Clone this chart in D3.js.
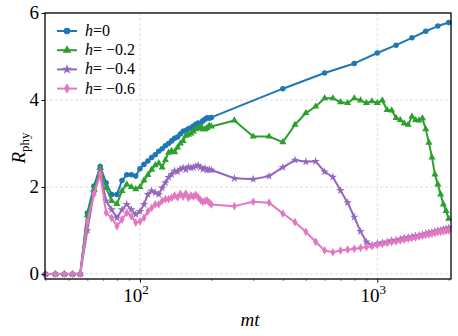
<!DOCTYPE html>
<html><head><meta charset="utf-8">
<script src="https://cdn.jsdelivr.net/npm/d3@7"></script>
<style>body{margin:0;background:#fff;}</style>
</head><body><svg id="c" width="458" height="336"></svg>
<script>
const xDense = [40,44,48,52,56,60,64,68,72,76,80,84,88,92,96,100,104,108,112,116,120,124,128,132,136,140,144,148,152,156,160,164,168,172,176,180,184,188,192,196,200];
const xBlueTail = [400,600,800,1000,1200,1400,1600,1800,2000];
const xTail = [250,300,350,400,450,500,550,600,650,700,750,800,850,900,950,1000,1050,1100,1150,1200,1250,1300,1350,1400,1450,1500,1550,1600,1650,1700,1750,1800,1850,1900,1950,2000];

const blueDense = [0,0,0,0,0,1.40,2.02,2.47,2.10,1.83,1.83,2.15,2.28,2.28,2.25,2.42,2.52,2.60,2.68,2.74,2.82,2.88,2.95,3.00,3.06,3.12,3.15,3.22,3.28,3.30,3.34,3.36,3.40,3.44,3.47,3.46,3.52,3.56,3.59,3.58,3.60];
const blueTail = [4.26,4.62,4.84,5.08,5.26,5.43,5.58,5.70,5.78];

const greenDense = [0,0,0,0,0,1.35,1.95,2.45,1.98,1.68,1.61,1.91,2.06,2.00,1.95,2.00,2.15,2.28,2.40,2.50,2.55,2.45,2.62,2.79,2.83,2.80,2.91,3.00,3.06,3.18,3.20,3.23,3.28,3.33,3.36,3.39,3.33,3.33,3.36,3.41,3.39];
const greenTail = [3.53,3.16,3.16,3.03,3.43,3.70,3.85,4.04,4.04,3.95,3.93,4.04,3.99,3.93,3.97,3.93,3.99,3.77,3.76,3.59,3.54,3.46,3.43,3.62,3.54,3.53,3.58,3.33,3.02,2.68,2.29,2.06,1.83,1.60,1.45,1.27];

const purpleDense = [0,0,0,0,0,1.00,1.87,2.38,1.68,1.48,1.29,1.48,1.60,1.48,1.37,1.44,1.60,1.83,1.91,1.87,1.83,1.98,2.10,2.22,2.29,2.37,2.35,2.41,2.44,2.40,2.46,2.44,2.45,2.48,2.50,2.45,2.41,2.43,2.39,2.40,2.39];
const purpleTail = [2.20,2.18,2.25,2.45,2.62,2.58,2.59,2.35,2.23,1.92,1.64,1.31,0.98,0.74,0.66,0.70,0.72,0.74,0.77,0.78,0.80,0.83,0.84,0.86,0.88,0.89,0.91,0.93,0.95,0.96,0.98,1.00,1.01,1.03,1.04,1.06];

const pinkDense = [0,0,0,0,0,1.20,1.83,2.29,1.41,1.29,1.10,1.25,1.41,1.33,1.18,1.21,1.29,1.44,1.52,1.60,1.60,1.68,1.72,1.72,1.75,1.80,1.76,1.84,1.78,1.85,1.75,1.80,1.78,1.82,1.76,1.70,1.66,1.68,1.69,1.64,1.60];
const pinkTail = [1.56,1.66,1.64,1.39,1.19,0.97,0.74,0.54,0.50,0.54,0.56,0.58,0.60,0.62,0.64,0.67,0.69,0.71,0.73,0.75,0.77,0.79,0.81,0.83,0.84,0.86,0.88,0.90,0.91,0.93,0.94,0.96,0.97,0.98,0.99,1.00];

const labels = ["0","\u22120.2","\u22120.4","\u22120.6"];
const colors = ["#1f77b4","#2ca02c","#9467bd","#e377c2"];
const yTicks = [0,2,4,6];
const xMajor = [100,1000];
const xMinor = [40,50,60,70,80,90,200,300,400,500,600,700,800,900,2000];

const series = [
  {x: xDense.concat(xBlueTail), y: blueDense.concat(blueTail), sym: d3.symbolCircle, size: 24},
  {x: xDense.concat(xTail), y: greenDense.concat(greenTail), sym: d3.symbolTriangle, size: 22},
  {x: xDense.concat(xTail), y: purpleDense.concat(purpleTail), sym: d3.symbolStar, size: 22},
  {x: xDense.concat(xTail), y: pinkDense.concat(pinkTail), sym: d3.symbolDiamond, size: 22}
];

const FONT = "'Liberation Serif', 'Times New Roman', serif";
const L = 45, R = 451, T = 13, B = 279;
const svg = d3.select("#c");
const x = d3.scaleLog().domain([39.8, 2045]).range([L, R]);
const y = d3.scaleLinear().domain([-0.115, 6]).range([B, T]);

// grid
const g = svg.append("g");
g.selectAll("line.gy").data(yTicks).enter().append("line")
  .attr("x1", L).attr("x2", R).attr("y1", d => y(d)).attr("y2", d => y(d))
  .attr("stroke", "#d8d8d8").attr("stroke-width", 0.8).attr("stroke-dasharray", "3,2");
g.selectAll("line.gx").data(xMajor).enter().append("line")
  .attr("y1", T).attr("y2", B).attr("x1", d => x(d)).attr("x2", d => x(d))
  .attr("stroke", "#d8d8d8").attr("stroke-width", 0.8).attr("stroke-dasharray", "3,2");

// series
const line = d3.line().x(d => x(d[0])).y(d => y(d[1]));
series.forEach((s, i) => {
  const pts = s.x.map((v, j) => [v, s.y[j]]);
  svg.append("path").datum(pts).attr("d", line).attr("fill", "none")
    .attr("stroke", colors[i]).attr("stroke-width", 2).attr("stroke-linejoin", "round");
  svg.append("g").selectAll("path").data(pts).enter().append("path")
    .attr("d", d3.symbol().type(s.sym).size(s.size))
    .attr("transform", d => `translate(${x(d[0])},${y(d[1])})`)
    .attr("fill", colors[i]);
});

// axes
svg.append("g").attr("transform", `translate(0,${B})`).call(d3.axisBottom(x).tickValues(xMinor).tickSize(2).tickFormat(""))
  .call(a => a.select(".domain").remove())
  .call(a => a.selectAll(".tick line").attr("stroke", "#333").attr("stroke-width", 0.6));
svg.append("g").attr("transform", `translate(0,${B})`).call(d3.axisBottom(x).tickValues(xMajor).tickSize(3.5).tickFormat(""))
  .call(a => a.select(".domain").remove())
  .call(a => a.selectAll(".tick line").attr("stroke", "#000").attr("stroke-width", 1));
svg.append("g").attr("transform", `translate(${L},0)`).call(d3.axisLeft(y).tickValues(yTicks).tickSize(3.5).tickFormat(""))
  .call(a => a.select(".domain").remove())
  .call(a => a.selectAll(".tick line").attr("stroke", "#000").attr("stroke-width", 1));

// tick labels
svg.append("g").selectAll("text").data(yTicks).enter().append("text")
  .attr("x", L - 6).attr("y", d => y(d) + 6).attr("text-anchor", "end")
  .style("font-family", FONT).style("font-size", "19px").text(d => d);
xMajor.forEach(v => {
  const t = svg.append("text").attr("x", x(v) - 4).attr("y", 302).attr("text-anchor", "middle")
    .style("font-family", FONT).style("font-size", "19px");
  t.append("tspan").text("10");
  t.append("tspan").attr("dy", -8).style("font-size", "13px").text(String(Math.round(Math.log10(v))));
});

// frame
svg.append("rect").attr("x", L).attr("y", T).attr("width", R - L).attr("height", B - T)
  .attr("fill", "none").attr("stroke", "#000").attr("stroke-width", 1.3);

// axis labels
svg.append("text").attr("x", (L + R) / 2 + 2).attr("y", 326).attr("text-anchor", "middle")
  .style("font-family", FONT).style("font-size", "19px").style("font-style", "italic").text("mt");
const yl = svg.append("text").attr("transform", `translate(25,${(T + B) / 2 + 2}) rotate(-90)`)
  .attr("text-anchor", "middle").style("font-family", FONT).style("font-size", "19px");
yl.append("tspan").style("font-style", "italic").text("R");
yl.append("tspan").attr("dy", 4).style("font-size", "13px").text("phy");

// legend
const lg = svg.append("g");
series.forEach((s, i) => {
  const yy = 31 + i * 19.2;
  lg.append("line").attr("x1", 57).attr("x2", 77).attr("y1", yy).attr("y2", yy)
    .attr("stroke", colors[i]).attr("stroke-width", 2);
  lg.append("path").attr("d", d3.symbol().type(s.sym).size(s.size + 10))
    .attr("transform", `translate(67,${yy})`).attr("fill", colors[i]);
  const t = lg.append("text").attr("x", 85).attr("y", yy + 5).style("font-family", FONT).style("font-size", "16px");
  t.append("tspan").style("font-style", "italic").text("h");
  t.append("tspan").text(i === 0 ? "=" : "= ");
  t.append("tspan").text(labels[i]);
});
</script></body></html>
